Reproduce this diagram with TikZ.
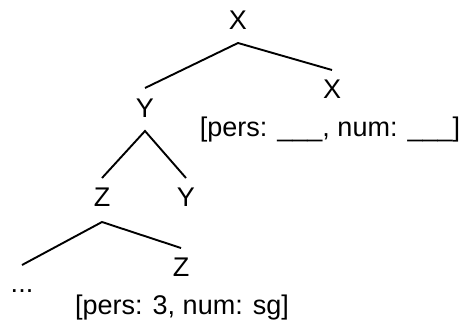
\documentclass[tikz,border=0pt]{standalone}
\usepackage{fontspec}
\setmainfont{Liberation Sans}
\tikzset{
    cat/.style={inner sep=0pt, anchor=base, font=\fontsize{27}{31}\selectfont},
    branch/.style={line width=1.9pt}
}
\begin{document}
\begin{tikzpicture}[x=1pt, y=-1pt]
            \useasboundingbox (0,0) rectangle (460,322);
            \node[cat] (xtop) at (238,29) {X};
            \node[cat] (yleft) at (145,117) {Y};
            \node[cat] (xright) at (332,98) {X};
            \node[cat] (featx) at (330,136) {[pers: \_\_\_, num: \_\_\_]};
            \node[cat] (zleft) at (102,206) {Z};
            \node[cat] (yright) at (186,206) {Y};
            \node[cat] (dots) at (22,292) {...};
            \node[cat] (zright) at (181,276) {Z};
            \node[cat] (featz) at (182,314) {[pers: 3, num: sg]};

            \draw[branch] ([yshift=29pt]yleft.base) -- ([yshift=-14pt]xtop.base) -- ([yshift=28pt]xright.base);
            \draw[branch] ([yshift=28pt]zleft.base) -- ([yshift=-14pt]yleft.base) -- ([yshift=28pt]yright.base);
            \draw[branch] ([yshift=27pt]dots.base) -- ([yshift=-16pt]zleft.base) -- ([yshift=28pt]zright.base);
        \end{tikzpicture}
\end{document}
